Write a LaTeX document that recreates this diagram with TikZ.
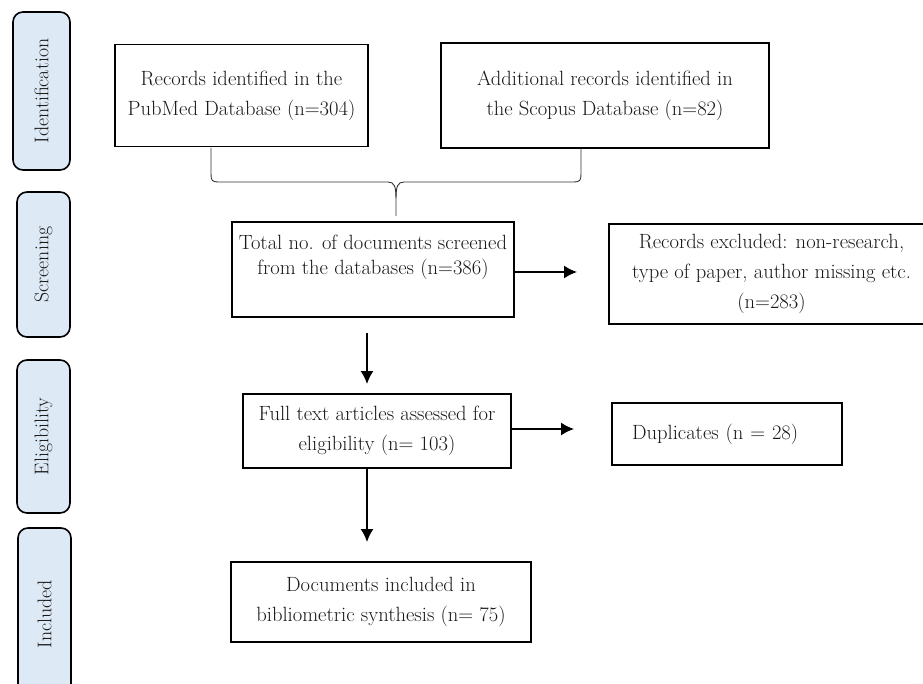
\documentclass[tikz,border=0pt]{standalone}
\usetikzlibrary{positioning,arrows.meta}
\definecolor{tabblue}{RGB}{222,233,246}
\definecolor{ink}{RGB}{25,25,25}
\tikzset{every picture/.style={>={Latex[length=13pt,width=13pt]},line width=2pt}}
\tikzset{stage/.style={draw,line width=1.6pt,rounded corners=10pt,fill=tabblue,text=ink,rotate=90,font=\fontsize{19.8}{22}\selectfont}}
\tikzset{box/.style={draw,line width=1.8pt,text=ink,align=center,inner sep=2pt,font=\fontsize{20.6}{30}\selectfont}}
\tikzset{brace line/.style={line width=0.9pt,black!80}}

\begin{document}
\begin{tikzpicture}[x=1pt,y=-1pt]
  \clip (0,0) rectangle (923,684);
  % stages
  \node[stage,minimum width=158pt,minimum height=57pt] (ident) at (41.5,91) {Identification};
  \node[stage,minimum width=145pt,minimum height=53pt] (screen) at (43.5,264.5) {Screening};
  \node[stage,minimum width=153pt,minimum height=53pt] (elig) at (43.5,436.5) {Eligibility};
  \node[stage,minimum width=172pt,minimum height=53pt] (incl) at (44.5,614) {Included};
  % boxes
  \node[box,minimum width=253pt,minimum height=102pt] (pubmed) at (241.5,95.5)
    {Records identified in the\\PubMed Database (n=304)};
  \node[box,minimum width=328pt,minimum height=105pt] (scopus) at (605,95.5)
    {Additional records identified in\\the Scopus Database (n=82)};
  \node[box,minimum width=282pt,minimum height=95pt,inner xsep=0pt,text depth=30pt,
    font=\fontsize{20.6}{25}\selectfont] (total) at (373,269.5)
    {Total no. of documents screened\\from the databases (n=386)};
  \node[box,minimum width=325pt,minimum height=100pt] (excl) at (771.5,274)
    {Records excluded: non-research,\\type of paper, author missing etc.\\(n=283)};
  \node[box,minimum width=268pt,minimum height=74pt] (full) at (377,431)
    {Full text articles assessed for\\eligibility (n= 103)};
  \node[box,minimum width=230pt,minimum height=62pt,align=left,text width=190pt] (dup) at (727,434)
    {Duplicates (n = 28)};
  \node[box,minimum width=300pt,minimum height=80pt] (docs) at (381,602)
    {Documents included in\\bibliometric synthesis (n= 75)};
  % brace joining the two databases
  \coordinate (bl) at (211,148);
  \coordinate (br) at (581,148);
  \coordinate (tip) at (396,216);
  \draw[brace line] (bl) -- (211,174) .. controls (211,180) and (212,182) .. (218,182) -- (388,182)
    .. controls (394,182) and (396,186) .. (396,198) -- (tip);
  \draw[brace line] (br) -- (581,174) .. controls (581,180) and (580,182) .. (574,182) -- (404,182)
    .. controls (398,182) and (396,186) .. (396,198);
  % arrows
  \draw[->,shorten >=31pt] ([yshift=-2.5pt]total.east) -- ([yshift=-2.5pt]total.east -| excl.west);
  \draw[->,shorten <=15pt,shorten >=9pt] ([xshift=-6pt]total.south) -- ([xshift=-6pt]total.south |- full.north);
  \draw[->,shorten >=37pt] ([yshift=2pt]full.east) -- ([yshift=2pt]full.east -| dup.west);
  \draw[->,shorten >=19pt] ([xshift=-10pt]full.south) -- ([xshift=-10pt]full.south |- docs.north);
\end{tikzpicture}
\end{document}
